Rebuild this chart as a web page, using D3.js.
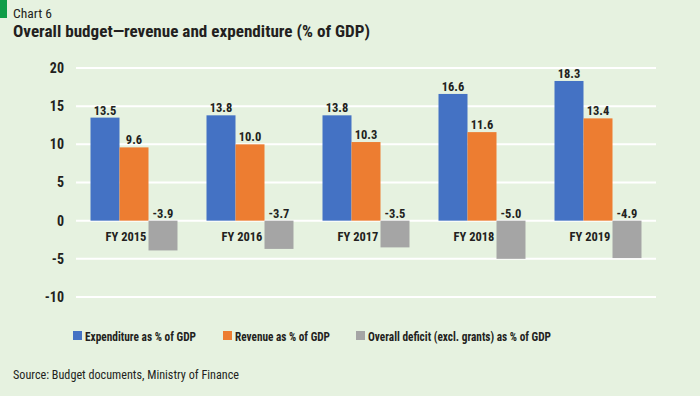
<!DOCTYPE html>
<html>
<head>
<meta charset="utf-8">
<script src="https://cdn.jsdelivr.net/npm/d3@7"></script>
<style>
  html, body { margin: 0; padding: 0; background: #e6f2e0; }
  svg { display: block; }
  text { font-family: "Roboto Condensed", "Open Sans Condensed", sans-serif; fill: #231f20; }
</style>
</head>
<body>
<svg id="chart" width="700" height="396"></svg>
<script>
const categories = ["FY 2015", "FY 2016", "FY 2017", "FY 2018", "FY 2019"];
const seriesNames = ["Expenditure as % of GDP", "Revenue as % of GDP", "Overall deficit (excl. grants) as % of GDP"];
const expenditure = [13.5, 13.8, 13.8, 16.6, 18.3];
const revenue = [9.6, 10.0, 10.3, 11.6, 13.4];
const deficit = [-3.9, -3.7, -3.5, -5.0, -4.9];
const yTicks = [-10, -5, 0, 5, 10, 15, 20];
const colors = ["#4472c4", "#ed7d31", "#a5a5a5"];

const seriesValues = [expenditure, revenue, deficit];
const svg = d3.select("#chart");
svg.append("rect").attr("width", 700).attr("height", 396).attr("fill", "#e6f2e0");
svg.append("rect").attr("x", 0).attr("y", 0).attr("width", 7).attr("height", 18).attr("fill", "#0f9d48");

// shrink font so natural width stays within `slack` px of target, then fine-tune with textLength
function fit(sel, w, slack) {
  sel.each(function() {
    const t = d3.select(this);
    const fs = +t.attr("font-size");
    const len = this.getComputedTextLength();
    if (len > w + slack) {
      t.attr("font-size", (fs * (w + slack) / len).toFixed(2));
    }
    t.attr("textLength", w).attr("lengthAdjust", "spacingAndGlyphs");
  });
  return sel;
}

fit(svg.append("text").attr("x", 13).attr("y", 18).attr("font-size", 13.5).text("Chart 6"), 39, 4);
fit(svg.append("text").attr("x", 13).attr("y", 37).attr("font-size", 17).attr("font-weight", "bold")
  .text("Overall budget\u2014revenue and expenditure (% of GDP)"), 357, 30);

const left = 76, right = 656;
const y = d3.scaleLinear().domain([-10, 20]).range([297, 68]);
const x0 = d3.scaleBand().domain(categories).range([left, right]).paddingInner(0.25).paddingOuter(0.125);
const x1 = d3.scaleBand().domain(d3.range(3)).range([0, x0.bandwidth()]);

const g = svg.append("g");
g.selectAll("line.grid").data(yTicks).join("line")
  .attr("x1", left).attr("x2", right)
  .attr("y1", d => y(d)).attr("y2", d => y(d))
  .attr("stroke", "#ffffff").attr("stroke-width", 2);

const yAxis = d3.axisLeft(y).tickValues(yTicks).tickSize(0).tickPadding(12).tickFormat(d => String(d));
const ya = svg.append("g").attr("transform", `translate(${left},0)`).call(yAxis);
ya.select(".domain").remove();
ya.selectAll("text").attr("font-size", 14).attr("font-weight", "bold")
  .style("font-family", '"Roboto Condensed", sans-serif').attr("fill", "#231f20");

const groups = g.selectAll("g.cat").data(categories).join("g")
  .attr("transform", d => `translate(${x0(d)},0)`);

groups.each(function(cat, ci) {
  const gg = d3.select(this);
  seriesValues.forEach((vals, si) => {
    const v = vals[ci];
    gg.append("rect")
      .attr("x", x1(si)).attr("width", x1.bandwidth())
      .attr("y", y(Math.max(0, v))).attr("height", Math.abs(y(v) - y(0)))
      .attr("fill", colors[si]);
    gg.append("text")
      .attr("x", x1(si) + x1.bandwidth() / 2)
      .attr("y", (v >= 0 ? y(v) : y(0)) - 3)
      .attr("text-anchor", "middle").attr("font-size", 12.5).attr("font-weight", "bold")
      .text(v.toFixed(1));
  });
});

// category labels
svg.selectAll("text.cat").data(categories).join("text")
  .attr("class", "cat")
  .attr("x", d => x0(d) + x0.bandwidth() / 2 - 8)
  .attr("y", y(0) + 20)
  .attr("text-anchor", "middle").attr("font-size", 12.5).attr("font-weight", "bold")
  .text(d => d);

// legend
const legendX = [73, 223, 356];
const legendW = [111, 95, 183];
const lg = svg.selectAll("g.legend").data(seriesNames).join("g")
  .attr("transform", (d, i) => `translate(${legendX[i]},331)`);
lg.append("rect").attr("width", 9).attr("height", 9).attr("fill", (d, i) => colors[i]);
lg.append("text").attr("x", 12).attr("y", 10).attr("font-size", 14).attr("font-weight", "bold").text(d => d)
  .each(function(d, i) { fit(d3.select(this), legendW[i], 14); });

fit(svg.append("text").attr("x", 13).attr("y", 379).attr("font-size", 12.5)
  .text("Source: Budget documents, Ministry of Finance"), 226, 20);
</script>
</body>
</html>
